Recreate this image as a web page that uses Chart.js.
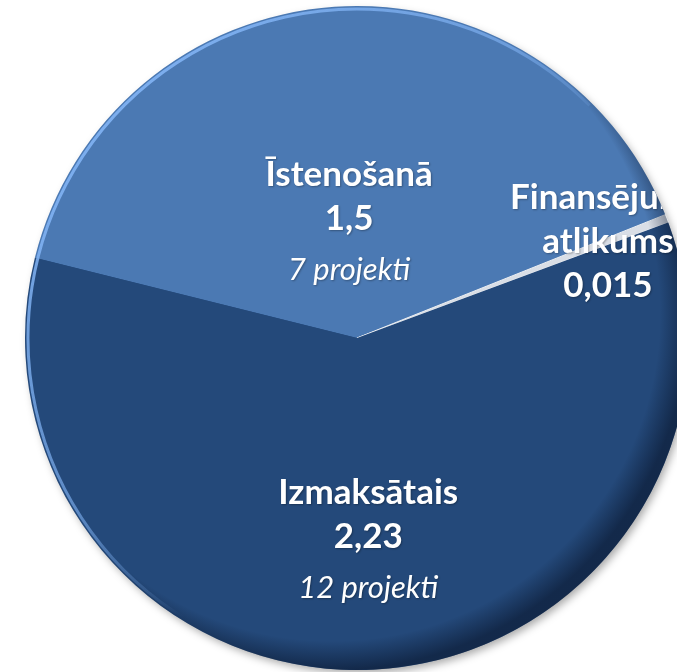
<!DOCTYPE html>
<html lang="lv">
<head>
  <meta charset="UTF-8">
  <title>Finansējuma sadalījums</title>
  <style>
    html, body { margin: 0; padding: 0; background: #ffffff; overflow: hidden; }
    #wrap { width: 677px; height: 672px; }
  </style>
</head>
<body>
  <div id="wrap"><canvas id="pie" width="677" height="672"></canvas></div>

  <script src="https://cdn.jsdelivr.net/npm/chart.js"></script>
  <script>
    // dati
    const categories = ['Īstenošanā', 'Finansējuma atlikums', 'Izmaksātais'];
    const nameLines = [['Īstenošanā'], ['Finansējuma', 'atlikums'], ['Izmaksātais']];
    const values = [1.5, 0.015, 2.23];
    const projectCounts = ['7 projekti', '', '12 projekti'];

    // izskats
    const sliceColors = ['#4b79b3', '#d9dee6', '#24497a'];
    const labelDist = [0.35, 0.81, 0.61]; // daļa no rādiusa
    const boldFont = 'bold 35px Lato, "Open Sans", sans-serif';
    const italicFont = 'italic 31px Lato, "Open Sans", sans-serif';

    const fmt = v => String(v).replace('.', ',');

    const pieEffects = {
      id: 'pieEffects',
      beforeDatasetsDraw(chart) {
        const arc = chart.getDatasetMeta(0).data[0];
        if (!arc) return;
        const {x, y, outerRadius: r} = arc.getProps(['x', 'y', 'outerRadius'], true);
        const ctx = chart.ctx;
        ctx.save();
        ctx.shadowColor = 'rgba(0,0,0,0.35)';
        ctx.shadowBlur = 8;
        ctx.shadowOffsetX = 3;
        ctx.shadowOffsetY = 4;
        ctx.fillStyle = '#24497a';
        ctx.beginPath();
        ctx.arc(x, y, r - 1, 0, Math.PI * 2);
        ctx.fill();
        ctx.restore();
      },
      afterDatasetsDraw(chart) {
        const meta = chart.getDatasetMeta(0);
        const first = meta.data[0];
        if (!first) return;
        const {x, y, outerRadius: r} = first.getProps(['x', 'y', 'outerRadius'], true);
        const ctx = chart.ctx;

        ctx.save();
        ctx.beginPath();
        ctx.arc(x, y, r, 0, Math.PI * 2);
        ctx.clip();

        // tumšā mala apakšā pa labi
        const off = 25;
        const rg = ctx.createRadialGradient(x - off, y - off, 0, x - off, y - off, r + off);
        rg.addColorStop(0, 'rgba(5,15,35,0)');
        rg.addColorStop((r - 4) / (r + off), 'rgba(5,15,35,0)');
        rg.addColorStop(1, 'rgba(5,15,35,0.55)');
        ctx.fillStyle = rg;
        ctx.fillRect(x - r, y - r, 2 * r, 2 * r);

        // gaišā mala augšā pa kreisi
        const lg = ctx.createLinearGradient(x - r, y - r * 0.6, x + r * 0.3, y + r * 0.6);
        lg.addColorStop(0, 'rgba(130,180,245,0.95)');
        lg.addColorStop(0.5, 'rgba(130,180,245,0.6)');
        lg.addColorStop(0.75, 'rgba(130,180,245,0)');
        ctx.strokeStyle = lg;
        ctx.lineWidth = 3;
        ctx.beginPath();
        ctx.arc(x, y, r - 3, Math.PI * 0.55, Math.PI * 1.75);
        ctx.stroke();

        // teksti
        ctx.fillStyle = '#ffffff';
        ctx.textAlign = 'center';
        ctx.textBaseline = 'middle';
        ctx.shadowColor = 'rgba(0,0,0,0.3)';
        ctx.shadowBlur = 2;
        ctx.shadowOffsetX = 1;
        ctx.shadowOffsetY = 1;
        meta.data.forEach((a, i) => {
          const p = a.getProps(['startAngle', 'endAngle'], true);
          const mid = (p.startAngle + p.endAngle) / 2;
          const cx = x + Math.cos(mid) * r * labelDist[i];
          const cy = y + Math.sin(mid) * r * labelDist[i];
          const lines = nameLines[i].map(t => ({t, f: boldFont}));
          lines.push({t: fmt(values[i]), f: boldFont});
          if (projectCounts[i]) lines.push({t: projectCounts[i], f: italicFont});
          const gaps = [];
          for (let k = 1; k < lines.length; k++) {
            gaps.push(lines[k].f === italicFont ? 51 : 44);
          }
          const total = gaps.reduce((s, g) => s + g, 0);
          let ly = cy - total / 2;
          lines.forEach((ln, k) => {
            ctx.font = ln.f;
            ctx.fillText(ln.t, cx, ly);
            if (k < gaps.length) ly += gaps[k];
          });
        });
        ctx.restore();
      }
    };

    new Chart(document.getElementById('pie'), {
      type: 'pie',
      data: {
        labels: categories,
        datasets: [{
          data: values,
          backgroundColor: sliceColors,
          borderColor: ['rgba(255,255,255,0)', '#eef1f5', 'rgba(255,255,255,0)'],
          borderWidth: [0, 1, 0],
          hoverOffset: 0,
          offset: 0,
          clip: false
        }]
      },
      options: {
        responsive: false,
        animation: false,
        rotation: -76,
        radius: 332,
        layout: { padding: { left: 37, right: 0, top: 4, bottom: 0 } },
        plugins: {
          legend: { display: false },
          tooltip: { enabled: false }
        }
      },
      plugins: [pieEffects]
    });
  </script>
</body>
</html>
